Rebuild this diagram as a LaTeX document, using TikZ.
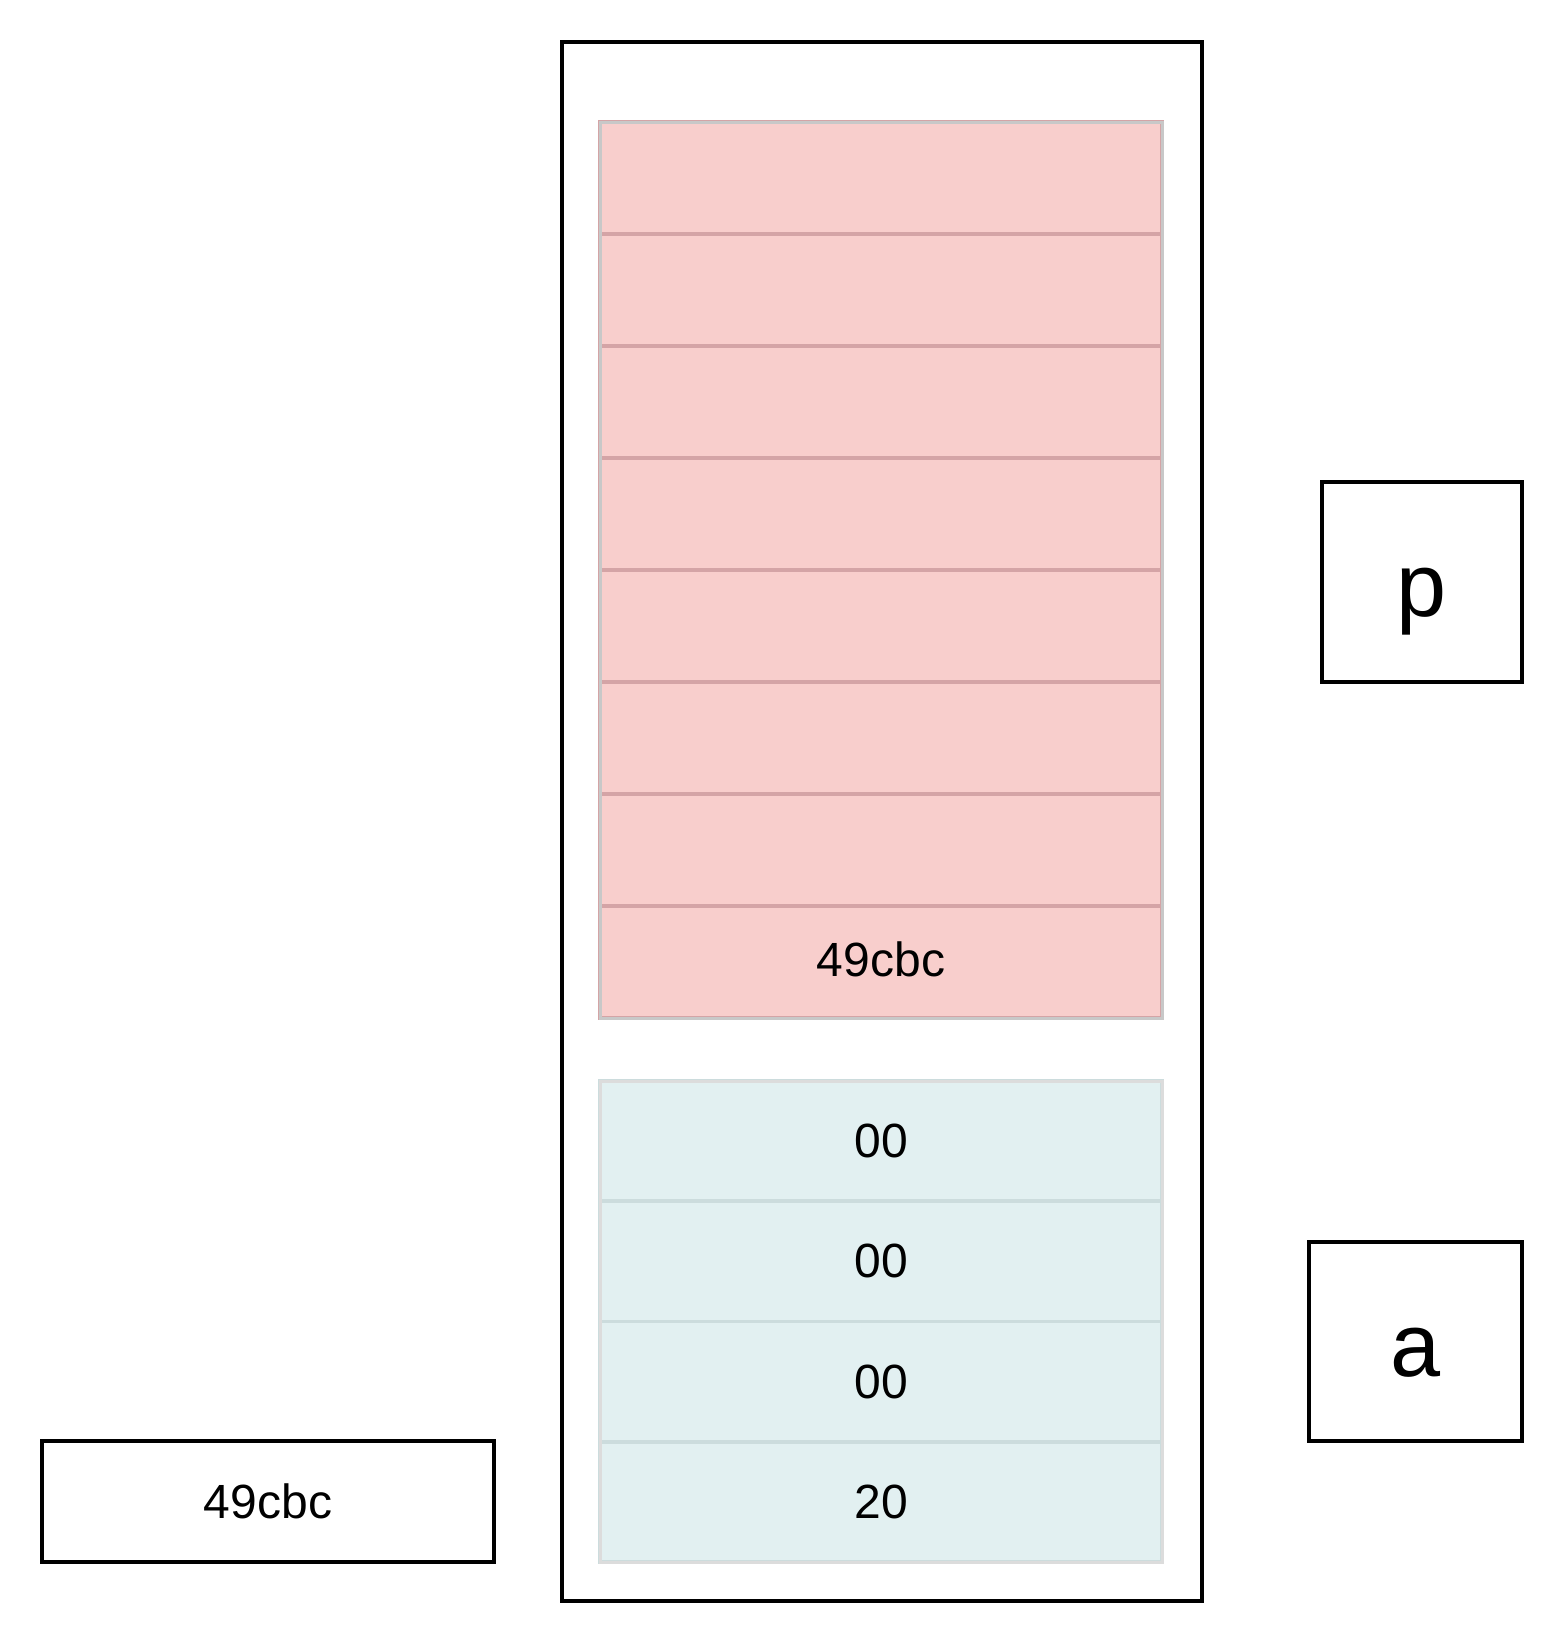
\documentclass[tikz,border=0pt]{standalone}
\usepackage{fontspec}
\setmainfont{Liberation Sans}
\usetikzlibrary{positioning}
\definecolor{redfill}{HTML}{F8CECC}
\definecolor{redline}{HTML}{D4A4A6}
\definecolor{redgroup}{HTML}{C8C8C8}
\definecolor{cyanfill}{HTML}{E2F0F1}
\definecolor{cyanline}{HTML}{CCDCDD}
\definecolor{cyangroup}{HTML}{DCDCDC}

\begin{document}
\begin{tikzpicture}[x=0.5pt, y=-0.5pt,
  frame/.style={draw=black, line width=1.8pt, inner sep=0pt, outer sep=0pt},
  rcell/.style={draw=redline, fill=redfill, line width=1.8pt, minimum width=281pt, minimum height=56pt,
    inner sep=0pt, outer sep=0pt, font=\fontsize{24}{29}\selectfont, text height=19.5pt, text depth=5.1pt},
  ccell/.style={rcell, draw=cyanline, fill=cyanfill, minimum height=60.125pt, text height=21.7pt},
  small/.style={font=\fontsize{24}{29}\selectfont, text height=21.7pt, text depth=5.1pt},
  big/.style={font=\fontsize{45}{54}\selectfont, text height=44pt, text depth=9.5pt}]
\useasboundingbox (0,0) rectangle (1568,1644);
% memory
\node[frame, minimum width=320pt, minimum height=779.5pt] (mem) at (882,821.5) {};
% bytes of p
\node[rcell] (r1) at (881,178) {};
\foreach \i [count=\j] in {2,...,7} \node[rcell, below=0pt of r\j] (r\i) {};
\node[rcell, below=0pt of r7] (r8) {49cbc};
\draw[redgroup, line width=1.5pt] (r1.north west) rectangle (r8.south east);
% bytes of a
\foreach \v [count=\i] in {00,00,00,20}
  \node[ccell] (c\i) at (881,{1081+120.25*(\i-0.5)}) {\v};
\draw[cyangroup, line width=1.5pt] (c1.north west) rectangle (c4.south east);
% variables
\node[frame, big, minimum width=100pt, minimum height=100pt] (p) at (1422,582) {p};
\node[frame, big, minimum width=106.5pt, minimum height=99.5pt] (a) at (1415.5,1341.5) {a};
\node[frame, small, minimum width=226pt, minimum height=60.5pt] (val) at (268,1501.5) {49cbc};
\end{tikzpicture}
\end{document}
